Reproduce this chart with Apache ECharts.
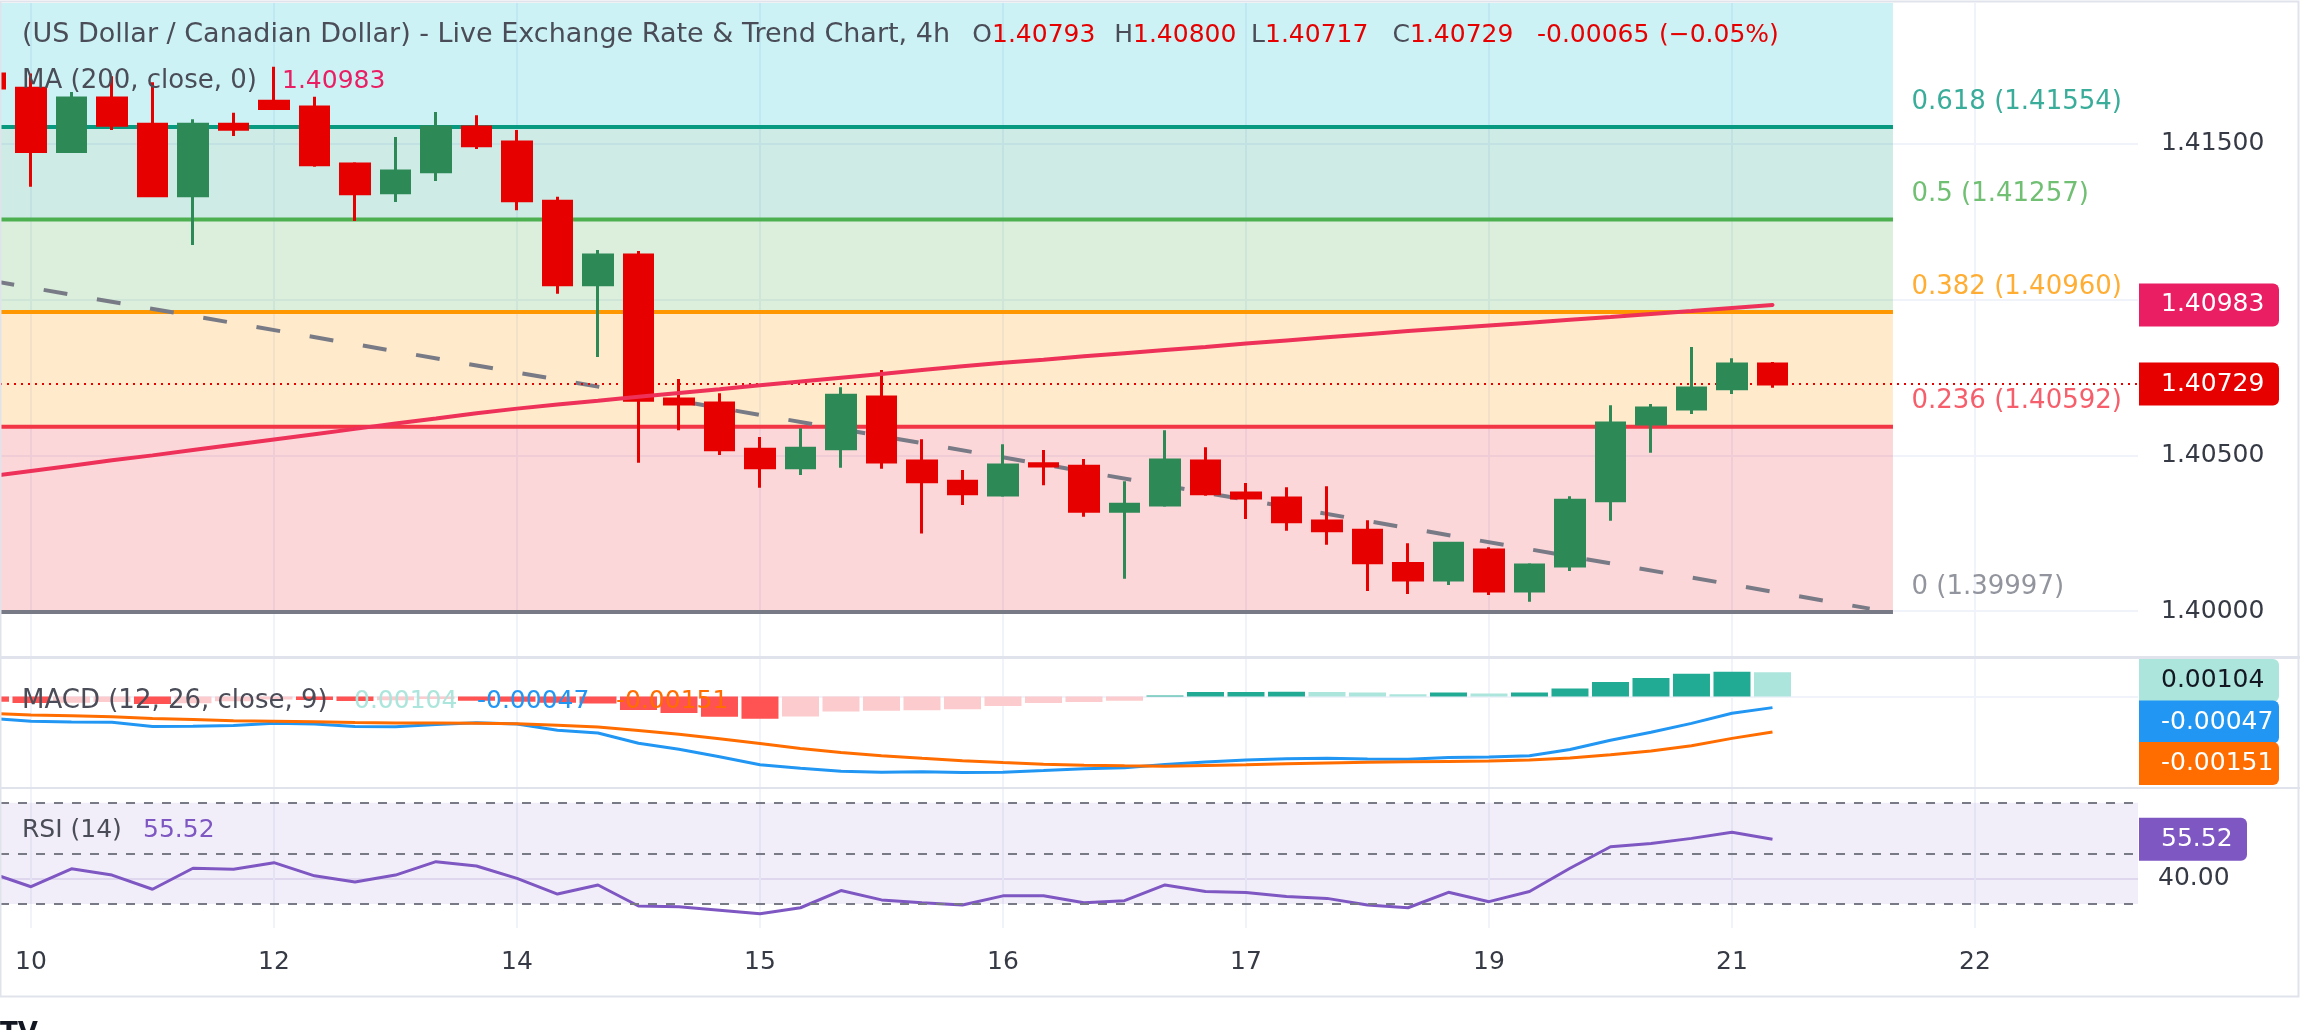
<!DOCTYPE html>
<html>
<head>
<meta charset="utf-8">
<script src="https://cdn.jsdelivr.net/npm/echarts@6/dist/echarts.min.js"></script>
<style>
html, body { margin: 0; padding: 0; background: #fff; }
#chart { width: 2300px; height: 1030px; }
</style>
</head>
<body>
<div id="chart"></div>
<script>
// 4h bars, k = bar number counted from the first bar of the 10th
var barIdx = [-1, 0, 1, 2, 3, 4, 5, 6, 7, 8, 9, 10, 11, 12, 13, 14, 15, 16, 17, 18, 19, 20, 21,
  22, 23, 24, 25, 26, 27, 28, 29, 30, 31, 32, 33, 34, 35, 36, 37, 38, 39, 40, 41, 42, 43];

var opens = [1.41724, 1.41678, 1.41475, 1.41647, 1.41563, 1.41333, 1.41563, 1.41637, 1.41618, 1.41435,
  1.41343, 1.41410, 1.41554, 1.41506, 1.41316, 1.41048, 1.41143, 1.40681, 1.40668, 1.40520,
  1.40460, 1.40521, 1.40687, 1.40482, 1.40417, 1.40373, 1.40473, 1.40465, 1.40321, 1.40341,
  1.40482, 1.40379, 1.40363, 1.40289, 1.40260, 1.40153, 1.40100, 1.40196, 1.40065, 1.40145,
  1.40354, 1.40601, 1.40649, 1.40714, 1.40793];
var highs = [1.41735, 1.41726, 1.41666, 1.41717, 1.41698, 1.41579, 1.41600, 1.41747, 1.41651, 1.41441,
  1.41522, 1.41602, 1.41592, 1.41544, 1.41330, 1.41159, 1.41156, 1.40745, 1.40699, 1.40559,
  1.40587, 1.40719, 1.40774, 1.40552, 1.40453, 1.40536, 1.40517, 1.40488, 1.40417, 1.40581,
  1.40526, 1.40411, 1.40398, 1.40401, 1.40292, 1.40218, 1.40218, 1.40205, 1.40154, 1.40369,
  1.40661, 1.40665, 1.40848, 1.40812, 1.40800];
var lows = [1.41670, 1.41362, 1.41474, 1.41544, 1.41330, 1.41175, 1.41525, 1.41610, 1.41426, 1.41252,
  1.41313, 1.41381, 1.41483, 1.41287, 1.41019, 1.40816, 1.40476, 1.40581, 1.40501, 1.40396,
  1.40437, 1.40460, 1.40457, 1.40249, 1.40341, 1.40367, 1.40404, 1.40303, 1.40104, 1.40335,
  1.40370, 1.40296, 1.40258, 1.40213, 1.40065, 1.40055, 1.40084, 1.40052, 1.40030, 1.40129,
  1.40290, 1.40508, 1.40633, 1.40697, 1.40717];
var closes = [1.41679, 1.41475, 1.41647, 1.41560, 1.41333, 1.41563, 1.41547, 1.41613, 1.41433, 1.41340,
  1.41413, 1.41554, 1.41494, 1.41317, 1.41048, 1.41143, 1.40677, 1.40665, 1.40518, 1.40460,
  1.40523, 1.40693, 1.40479, 1.40415, 1.40377, 1.40469, 1.40466, 1.40321, 1.40343, 1.40485,
  1.40377, 1.40363, 1.40287, 1.40258, 1.40155, 1.40100, 1.40218, 1.40065, 1.40148, 1.40356,
  1.40604, 1.40652, 1.40716, 1.40793, 1.40729];

// MA (200, close)
var maVals = [1.40433, 1.40450, 1.40467, 1.40484, 1.40500, 1.40517, 1.40534, 1.40551, 1.40568, 1.40585,
  1.40602, 1.40618, 1.40635, 1.40650, 1.40663, 1.40675, 1.40688, 1.40700, 1.40712, 1.40725,
  1.40737, 1.40749, 1.40761, 1.40774, 1.40786, 1.40797, 1.40807, 1.40818, 1.40828, 1.40838,
  1.40848, 1.40859, 1.40869, 1.40879, 1.40889, 1.40899, 1.40908, 1.40917, 1.40926, 1.40935,
  1.40944, 1.40954, 1.40963, 1.40973, 1.40983];

// MACD (12, 26, close, 9)
var macdHist = [-0.00022, -0.00027, -0.00026, -0.00023, -0.00032, -0.00028, -0.00020, -0.00012, -0.00015, -0.00019,
  -0.00016, -0.00010, -0.00018, -0.00022, -0.00026, -0.00030, -0.00057, -0.00070, -0.00086, -0.00094,
  -0.00085, -0.00064, -0.00060, -0.00058, -0.00054, -0.00040, -0.00027, -0.00023, -0.00018, 0.00005,
  0.00019, 0.00020, 0.00021, 0.00020, 0.00017, 0.00010, 0.00017, 0.00013, 0.00017, 0.00034,
  0.00062, 0.00079, 0.00097, 0.00106, 0.00104];
var macdLine = [-0.00092, -0.00105, -0.00108, -0.00109, -0.00127, -0.00126, -0.00123, -0.00114, -0.00117, -0.00127,
  -0.00128, -0.00119, -0.00111, -0.00117, -0.00143, -0.00155, -0.00199, -0.00224, -0.00256, -0.00290,
  -0.00305, -0.00318, -0.00322, -0.00320, -0.00323, -0.00322, -0.00315, -0.00307, -0.00303, -0.00289,
  -0.00279, -0.00270, -0.00265, -0.00263, -0.00266, -0.00267, -0.00259, -0.00257, -0.00252, -0.00225,
  -0.00186, -0.00152, -0.00114, -0.00071, -0.00047];
var signalLine = [-0.00072, -0.00078, -0.00082, -0.00086, -0.00093, -0.00098, -0.00103, -0.00105, -0.00107, -0.00110,
  -0.00112, -0.00113, -0.00114, -0.00116, -0.00122, -0.00130, -0.00144, -0.00160, -0.00180, -0.00200,
  -0.00221, -0.00238, -0.00252, -0.00263, -0.00273, -0.00281, -0.00288, -0.00292, -0.00295, -0.00297,
  -0.00293, -0.00290, -0.00286, -0.00283, -0.00280, -0.00278, -0.00276, -0.00274, -0.00270, -0.00262,
  -0.00248, -0.00232, -0.00209, -0.00178, -0.00151];

// RSI (14)
var rsiVals = [42.3, 36.8, 43.9, 41.4, 35.8, 44.1, 43.7, 46.3, 41.1, 38.7,
  41.4, 46.7, 45.0, 40.1, 33.9, 37.5, 29.2, 28.9, 27.5, 26.1,
  28.5, 35.3, 31.6, 30.5, 29.6, 33.2, 33.2, 30.5, 31.3, 37.5,
  34.9, 34.5, 32.9, 32.2, 29.6, 28.5, 34.6, 30.9, 34.9, 44.1,
  52.6, 53.9, 55.9, 58.3, 55.52];

// Fibonacci retracement drawing
var fibRatios = ['0', '0.236', '0.382', '0.5', '0.618', '0.786'];
var fibPrices = [1.39997, 1.40592, 1.40960, 1.41257, 1.41554, 1.41977];
var fibColors = ['#787b86', '#f23645', '#ff9800', '#4caf50', '#089981', '#00bcd4'];
var fibEnd = 45.975;

// dashed trend line drawing
var trendX = [-1, 45.4];
var trendY = [1.41061, 1.40008];

// axes
var dayTicks = [0, 6, 12, 18, 24, 30, 36, 42, 48];
var dayLabels = ['10', '12', '14', '15', '16', '17', '19', '21', '22'];
var priceGrid = [1.400, 1.405, 1.410, 1.415];
var priceLabels = [1.400, 1.405, 1.415];
var rsiLevels = [70, 50, 30];

var FONT = 'DejaVu Sans';
function F(px) { return px + 'px "DejaVu Sans"'; }
var UP = '#2d8a57', DOWN = '#e60000';
var TXT = '#4a4d57';
var xMin = -0.765, xMax = 52.025;

var chart = echarts.init(document.getElementById('chart'));

function pairs(vals) {
  return barIdx.map(function (k, i) { return [k, vals[i]]; });
}

var grids = [
  { left: 0, right: 162, top: 3, height: 653 },
  { left: 0, right: 162, top: 659, height: 128 },
  { left: 0, right: 162, top: 789, height: 139 }
];

var xAxes = grids.map(function (gr, g) {
  return {
    type: 'value', gridIndex: g, min: xMin, max: xMax,
    axisLine: { show: false },
    axisTick: { show: false, customValues: dayTicks },
    axisLabel: g === 2 ? {
      customValues: dayTicks,
      formatter: function (v) { return dayLabels[dayTicks.indexOf(Math.round(v))]; },
      fontSize: 25, fontFamily: FONT, color: '#363a45', margin: 22
    } : { show: false },
    splitLine: { show: true, lineStyle: { color: '#f0f3fa', width: 2 } }
  };
});

var yAxes = [
  {
    type: 'value', gridIndex: 0, position: 'right', min: 1.39856, max: 1.41952,
    axisLine: { show: false },
    axisTick: { show: false, customValues: priceGrid },
    axisLabel: {
      customValues: priceLabels, formatter: function (v) { return v.toFixed(5); },
      fontSize: 25, fontFamily: FONT, color: '#363a45', margin: 23
    },
    splitLine: { show: true, lineStyle: { color: '#f0f3fa', width: 2 } }
  },
  {
    type: 'value', gridIndex: 1, position: 'right', min: -0.00385, max: 0.0016,
    axisLine: { show: false },
    axisTick: { show: false, customValues: [0] },
    axisLabel: { show: false },
    splitLine: { show: true, lineStyle: { color: '#f0f3fa', width: 2 } }
  },
  {
    type: 'value', gridIndex: 2, position: 'right', min: 20.5, max: 75.4,
    axisLine: { show: false },
    axisTick: { show: false, customValues: [40] },
    axisLabel: {
      customValues: [40], formatter: function (v) { return v.toFixed(2); },
      fontSize: 25, fontFamily: FONT, color: '#363a45', margin: 20
    },
    splitLine: { show: true, lineStyle: { color: '#e9e6f2', width: 2 } }
  }
];

// fib bands, lines and labels
var fibBands = [];
for (var i = 0; i < fibPrices.length - 1; i++) {
  fibBands.push([
    { coord: [xMin, fibPrices[i + 1]], itemStyle: { color: echarts.color.modifyAlpha(fibColors[i + 1], 0.2) } },
    { coord: [fibEnd, fibPrices[i]] }
  ]);
}
var fibSeries = [];
var fibLabelData = [];
for (var j = 0; j < fibPrices.length - 1; j++) {
  fibSeries.push({
    type: 'line', xAxisIndex: 0, yAxisIndex: 0, z: 2, silent: true, symbol: 'none',
    data: [[xMin, fibPrices[j]], [fibEnd, fibPrices[j]]],
    lineStyle: { color: fibColors[j], width: 4 }
  });
  fibLabelData.push({
    value: [fibEnd, fibPrices[j]],
    label: { color: fibColors[j], formatter: fibRatios[j] + ' (' + fibPrices[j].toFixed(5) + ')' }
  });
}

var last = closes.length - 1;

var series = [
  {
    type: 'line', xAxisIndex: 0, yAxisIndex: 0, data: [], silent: true, z: 1,
    markArea: { silent: true, data: fibBands }
  }
].concat(fibSeries).concat([
  {
    type: 'line', xAxisIndex: 0, yAxisIndex: 0, z: 2, silent: true,
    data: [[trendX[0], trendY[0]], [trendX[1], trendY[1]]],
    symbol: 'none',
    lineStyle: { color: '#787b86', width: 4, type: [24, 30] }
  },
  {
    // last price line
    type: 'line', xAxisIndex: 0, yAxisIndex: 0, z: 3, silent: true, symbol: 'none',
    data: [[xMin, closes[last]], [xMax, closes[last]]],
    lineStyle: { color: DOWN, width: 2, type: [2, 5] }
  },
  {
    type: 'candlestick', xAxisIndex: 0, yAxisIndex: 0, z: 3,
    barWidth: 29,
    data: barIdx.map(function (k, i) { return [k, opens[i], closes[i], lows[i], highs[i]]; }),
    encode: { x: 0, y: [1, 2, 3, 4] },
    itemStyle: { color: UP, color0: DOWN, borderColor: UP, borderColor0: DOWN, borderWidth: 3 }
  },
  {
    type: 'line', xAxisIndex: 0, yAxisIndex: 0, z: 4, silent: true,
    data: pairs(maVals), symbol: 'none',
    lineStyle: { color: '#ee3158', width: 4, cap: 'round' }
  },
  {
    type: 'scatter', xAxisIndex: 0, yAxisIndex: 0, z: 4, silent: true,
    symbolSize: 1, itemStyle: { color: 'rgba(0,0,0,0)' },
    label: { show: true, position: 'right', distance: 0, offset: [18, -25], fontSize: 26, fontFamily: FONT },
    data: fibLabelData
  },
  {
    type: 'bar', xAxisIndex: 1, yAxisIndex: 1, barWidth: 37, silent: true,
    data: pairs(macdHist),
    itemStyle: {
      color: function (p) {
        var h = macdHist[p.dataIndex];
        var prev = p.dataIndex > 0 ? macdHist[p.dataIndex - 1] : h;
        if (h >= 0) return h >= prev ? '#22ab94' : '#ace5dc';
        return h <= prev ? '#ff5252' : '#fccbcd';
      }
    }
  },
  {
    type: 'line', xAxisIndex: 1, yAxisIndex: 1, silent: true, symbol: 'none',
    data: pairs(macdLine), lineStyle: { color: '#2196f3', width: 3 }
  },
  {
    type: 'line', xAxisIndex: 1, yAxisIndex: 1, silent: true, symbol: 'none',
    data: pairs(signalLine), lineStyle: { color: '#ff6d00', width: 3 }
  },
  {
    type: 'line', xAxisIndex: 2, yAxisIndex: 2, silent: true, symbol: 'none',
    data: pairs(rsiVals), lineStyle: { color: '#7e57c2', width: 3 },
    markArea: {
      silent: true, itemStyle: { color: 'rgba(126,87,194,0.1)' },
      data: [[{ yAxis: rsiLevels[2] }, { yAxis: rsiLevels[0] }]]
    },
    markLine: {
      silent: true, symbol: 'none', label: { show: false },
      lineStyle: { color: '#787b86', width: 2, type: [9, 9] },
      data: rsiLevels.map(function (v) { return { yAxis: v }; })
    }
  }
]);

chart.setOption({
  animation: false,
  backgroundColor: '#ffffff',
  grid: grids,
  xAxis: xAxes,
  yAxis: yAxes,
  series: series
});

// overlays: legends, price tags, pane frame
function py(val, idx) { return chart.convertToPixel({ yAxisIndex: idx }, val); }

var ctx = document.createElement('canvas').getContext('2d');
function measure(s, font) { ctx.font = font; return ctx.measureText(s).width; }

var g = [];
function txt(x, y, s, fill, font) {
  g.push({ type: 'text', x: x, y: y, z: 60, silent: true,
    style: { text: s, fill: fill, font: font || F(25), verticalAlign: 'middle' } });
}
// prefix letter set flush against the value that follows it
function ohlc(letter, val, x, y) {
  txt(x - measure(letter, F(25)), y, letter, TXT);
  txt(x, y, val, DOWN);
}
function tag(y, w, bg, fg, s) {
  g.push({ type: 'rect', z: 50, silent: true, shape: { x: 2139, y: y - 21.5, width: w, height: 43, r: [0, 6, 6, 0] }, style: { fill: bg } });
  txt(2161, y, s, fg);
}

// frame and pane separators
g.push({ type: 'rect', z: 40, silent: true, shape: { x: 0.5, y: 1.5, width: 2298, height: 995 }, style: { fill: null, stroke: '#e0e3eb', lineWidth: 2 } });
g.push({ type: 'line', z: 40, silent: true, shape: { x1: 0, y1: 657.5, x2: 2300, y2: 657.5 }, style: { stroke: '#e0e3eb', lineWidth: 3 } });
g.push({ type: 'line', z: 40, silent: true, shape: { x1: 0, y1: 788, x2: 2300, y2: 788 }, style: { stroke: '#e0e3eb', lineWidth: 2 } });

// legends
txt(22, 35, '(US Dollar / Canadian Dollar) - Live Exchange Rate & Trend Chart, 4h', TXT, F(27));
ohlc('O', '1.40793', 992, 35);
ohlc('H', '1.40800', 1133, 35);
ohlc('L', '1.40717', 1265, 35);
ohlc('C', '1.40729', 1410, 35);
txt(1537, 35, '-0.00065', DOWN);
txt(1659, 35, '(\u22120.05%)', DOWN);

txt(22, 81, 'MA (200, close, 0)', TXT, F(26));
txt(282, 81, maVals[last].toFixed(5), '#e91e63');

txt(22, 701, 'MACD (12, 26, close, 9)', TXT, F(26));
txt(354, 701, macdHist[last].toFixed(5), '#ace5dc');
txt(477, 701, macdLine[last].toFixed(5), '#2196f3');
txt(616, 701, signalLine[last].toFixed(5), '#ff6d00');

txt(22, 830, 'RSI (14)', TXT, F(25));
txt(143, 830, rsiVals[last].toFixed(2), '#7e57c2');

// price tags on the right scale
tag(py(maVals[last], 0), 140, '#e91e63', '#ffffff', maVals[last].toFixed(5));
tag(py(closes[last], 0), 140, DOWN, '#ffffff', closes[last].toFixed(5));

var mTop = grids[1].top;
var ys = [py(macdHist[last], 1), py(macdLine[last], 1), py(signalLine[last], 1)];
ys[0] = Math.max(ys[0], mTop + 21.5);
ys[1] = Math.max(ys[1], ys[0] + 41.5);
ys[2] = Math.max(ys[2], ys[1] + 41.5);
tag(ys[0], 140, '#ace5dc', '#131722', macdHist[last].toFixed(5));
tag(ys[1], 140, '#2196f3', '#ffffff', macdLine[last].toFixed(5));
tag(ys[2], 140, '#ff6d00', '#ffffff', signalLine[last].toFixed(5));
tag(py(rsiVals[last], 2), 108, '#7e57c2', '#ffffff', rsiVals[last].toFixed(2));

g.push({ type: 'text', x: 0, y: 1021, z: 60, silent: true,
  style: { text: 'TV', fill: '#131722', font: 'bold 26px "DejaVu Sans"', verticalAlign: 'top' } });

chart.setOption({ graphic: g });
</script>
</body>
</html>
